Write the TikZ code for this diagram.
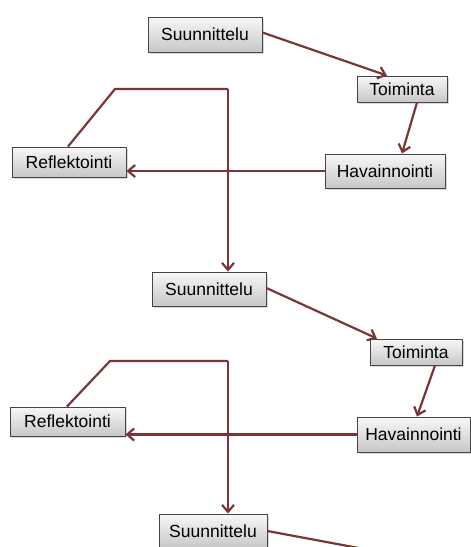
\documentclass[tikz,border=0pt]{standalone}
\usepackage{fontspec}
\setmainfont{Liberation Sans}
\usetikzlibrary{arrows.meta,shadows,calc}
\definecolor{arr}{HTML}{7A3636}
\definecolor{boxline}{HTML}{454545}
\begin{document}
\begin{tikzpicture}[x=1pt,y=-1pt,
  box/.style={draw=boxline,line width=0.9pt,top color=white!97!black,bottom color=black!22,
    drop shadow={shadow xshift=1.5pt,shadow yshift=-1.8pt,opacity=0.3},
    inner sep=0pt,minimum height=#1,
    font=\fontsize{17.5}{20}\selectfont},
  box/.default=34pt,
  link/.style={draw=arr,line width=2.2pt},
  flow/.style={link,-{Straight Barb[length=7pt,width=12pt]}}]
\useasboundingbox (0,0) rectangle (471,547);
\clip (0,0) rectangle (471,547);
% cycle 1
\node[box=35pt,minimum width=114pt] (S1) at (205,34.5) {Suunnittelu};
\node[box=26pt,minimum width=90pt] (T1) at (402,89) {Toiminta};
\node[box=34pt,minimum width=120pt] (H1) at (385,171) {Havainnointi};
\node[box=30pt,minimum width=114pt] (R1) at (69,162) {Reflektointi};
% cycle 2
\node[box=34pt,minimum width=114pt] (S2) at (209,289) {Suunnittelu};
\node[box=26pt,minimum width=92pt] (T2) at (416,352) {Toiminta};
\node[box=35pt,minimum width=113pt] (H2) at (413.5,434.5) {Havainnointi};
\node[box=29pt,minimum width=115pt] (R2) at (67.5,421.5) {Reflektointi};
% cycle 3
\node[box=34pt,minimum width=108pt] (S3) at (213,531) {Suunnittelu};
% connectors cycle 1
\draw[flow] ($(S1.east)+(0,-2)$) -- ($(T1.north)+(-15,0)$);
\draw[flow] ($(T1.south)+(15,0)$) -- ($(H1.north)+(17,0)$);
\draw[flow] (H1.west) -- (H1.west -| R1.east);
\coordinate (a1) at (115,89);
\coordinate (b1) at (228,89);
\draw[link] ($(R1.north)+(-1,0)$) -- (a1) -- (b1);
\draw[flow] (b1) -- (b1 |- S2.north);
% connectors cycle 2
\draw[flow] ($(S2.east)+(0,-1)$) -- ($(T2.north)+(-39,0)$);
\draw[flow] ($(T2.south)+(19,0)$) -- ($(H2.north)+(3.5,0)$);
\draw[flow] (H2.west) -- (H2.west -| R2.east);
\coordinate (a2) at (110,361);
\coordinate (b2) at (228,361);
\draw[link] ($(R2.north)+(-0.5,0)$) -- (a2) -- (b2);
\draw[flow] (b2) -- (b2 |- S3.north);
% connector cycle 3 (leaves the picture)
\coordinate (c3) at (407,557);
\draw[link] (S3.east) -- (c3);
\end{tikzpicture}
\end{document}
